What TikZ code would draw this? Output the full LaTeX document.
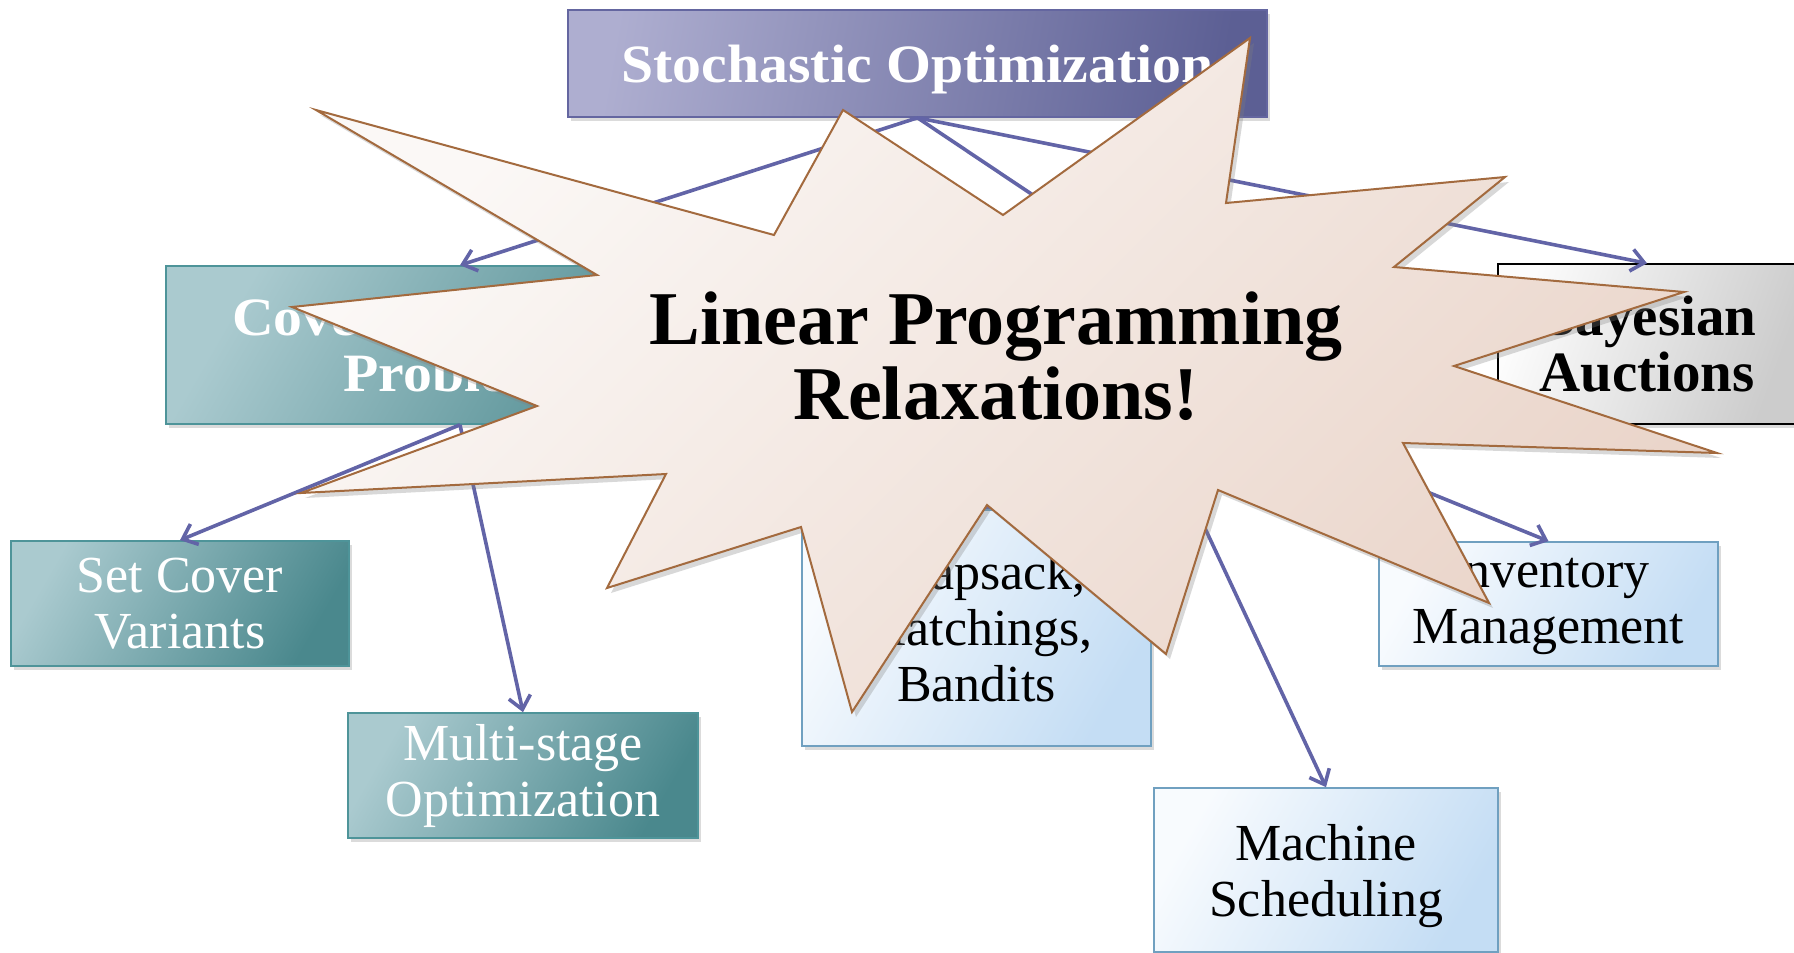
\documentclass[tikz,border=0pt]{standalone}
\usepackage{fontspec}
\setmainfont{Liberation Serif}
\newfontfamily\headfont{Liberation Serif}[FakeStretch=1.07]
\usetikzlibrary{arrows.meta,shadows}

\definecolor{linkblue}{RGB}{98,100,167}
\definecolor{lavL}{RGB}{174,174,208}
\definecolor{lavD}{RGB}{92,95,148}
\definecolor{lavB}{RGB}{100,102,160}
\definecolor{tealL}{RGB}{170,202,207}
\definecolor{tealD}{RGB}{74,136,141}
\definecolor{tealB}{RGB}{78,148,153}
\definecolor{skyL}{RGB}{248,251,254}
\definecolor{skyD}{RGB}{196,221,244}
\definecolor{skyB}{RGB}{112,160,192}
\definecolor{greyL}{RGB}{252,252,252}
\definecolor{greyD}{RGB}{204,204,204}
\definecolor{starL}{RGB}{251,248,246}
\definecolor{starD}{RGB}{234,213,202}
\definecolor{starB}{RGB}{163,106,62}

\tikzset{
  box/.style={rectangle, inner sep=0pt, align=center, line width=1.6pt,
    drop shadow={shadow xshift=3pt, shadow yshift=-4pt, opacity=0.28}},
  headbox/.style={box, draw=lavB, top color=lavL, bottom color=lavD,
    shading angle=80, text=white,
    font=\headfont\bfseries\fontsize{54}{56}\selectfont},
  tealbox/.style={box, draw=tealB, top color=tealL, bottom color=tealD,
    shading angle=60, text=white, font=\fontsize{52}{56}\selectfont},
  tealhead/.style={tealbox, font=\headfont\bfseries\fontsize{54}{56}\selectfont},
  skybox/.style={box, draw=skyB, top color=skyL, bottom color=skyD,
    shading angle=60, text=black, font=\fontsize{52}{56}\selectfont},
  greybox/.style={box, draw=black, line width=1.4pt, top color=greyL,
    bottom color=greyD, shading angle=70, text=black,
    font=\bfseries\fontsize{57}{56}\selectfont},
  link/.style={draw=linkblue, line width=3.6pt,
    -{Straight Barb[length=13pt,width=22pt]}},
  burst/.style={draw=starB, line width=2pt, line join=miter,
    top color=starL, bottom color=starD, shading angle=45,
    drop shadow={shadow xshift=4pt, shadow yshift=-5pt, opacity=0.3}},
  bursttext/.style={align=center, inner sep=0pt,
    font=\bfseries\fontsize{76}{75}\selectfont}
}

\begin{document}
\begin{tikzpicture}[x=1pt, y=-1pt]
\useasboundingbox[fill=white] (0,0) rectangle (1794,953);

% topic boxes
\node[headbox, text depth=0pt, minimum width=699pt, minimum height=107pt]
  (stoch) at (917.5,63.5) {Stochastic Optimization};
\node[tealhead, minimum width=588pt, minimum height=158pt] (cover) at (460,345)
  {Covering, Packing\\Problems};
\node[tealbox, minimum width=338pt, minimum height=125pt] (setcover) at (180,603.5)
  {Set Cover\\Variants};
\node[tealbox, minimum width=350pt, minimum height=125pt] (multi) at (523,775.5)
  {Multi-stage\\Optimization};
\node[skybox, minimum width=349pt, minimum height=236pt] (knap) at (976.5,628)
  {Knapsack,\\Matchings,\\Bandits};
\node[skybox, minimum width=339pt, minimum height=124pt] (inventory) at (1548.5,604)
  {Inventory\\Management};
\node[skybox, text depth=0pt, minimum width=344pt, minimum height=164pt]
  (machine) at (1326,870) {Machine\\Scheduling};
\node[greybox, minimum width=298pt, minimum height=160pt] (bayes) at (1647,344)
  {Bayesian\\Auctions};

% hidden junction points behind the burst
\coordinate (hubN) at (1130,260);
\coordinate (hubS) at (1132,372);

% connectors
\draw[link] (stoch.south) -- (cover.north);
\draw[link] (stoch.south) -- (bayes.north);
\draw[link] (stoch.south) -- (hubN);
\draw[link] (hubS) -- (knap.north);
\draw[link] (hubS) -- (machine.north);
\draw[link] (hubS) -- (inventory.north);
\draw[link] (cover.south) -- (setcover.north);
\draw[link] (cover.south) -- (multi.north);

% the burst on top
\path[burst] (316,110) -- (774,235) -- (843,110) -- (1003,215) -- (1250,38)
  -- (1226,203) -- (1505,177) -- (1394,267) -- (1684,292) -- (1454,366)
  -- (1717,453) -- (1403,443) -- (1489,603) -- (1218,490) -- (1166,654)
  -- (987,505) -- (852,712) -- (801,527) -- (607,588) -- (666,474)
  -- (301,493) -- (537,406) -- (292,307) -- (597,275) -- cycle;
\node[bursttext] (lp) at (996,356) {Linear Programming\\Relaxations!};
\end{tikzpicture}
\end{document}
